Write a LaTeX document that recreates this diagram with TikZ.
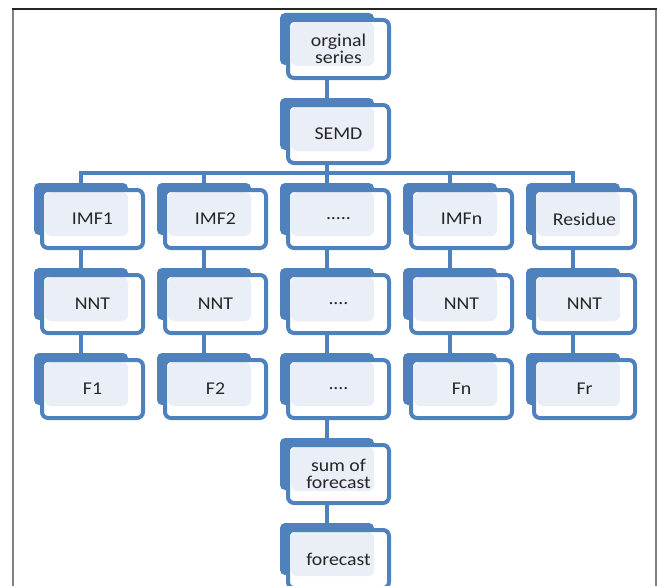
\documentclass[tikz,border=0pt]{standalone}
\usepackage{fontspec}
\setmainfont{Carlito}[FakeStretch=1.1]
\usetikzlibrary{backgrounds}
\definecolor{bl}{HTML}{4F81BD}
\definecolor{lf}{HTML}{EAEFF7}
\definecolor{txt}{HTML}{262626}
\tikzset{
  backshape/.style={fill=bl, rounded corners=5pt},
  frontbox/.style={draw=bl, line width=4pt, fill=white, rounded corners=6pt,
    minimum width=101pt, minimum height=58pt, inner sep=0pt, outer sep=0pt,
    align=center, font=\fontsize{18}{17}\selectfont, text=txt,
    path picture={\fill[lf] ([xshift=3pt,yshift=-2pt]path picture bounding box.north west)
      rectangle ([xshift=-15pt,yshift=12pt]path picture bounding box.south east);}},
  conn/.style={draw=bl, line width=4.5pt},
  framel/.style={line width=2pt, draw=black!50},
}
\newcommand\tbox[4]{%
  \fill[backshape] (#2-6,#3-5) rectangle (#2+88,#3+47);
  \node[frontbox] (#1) at (#2+52.5,#3+31) {#4};
}
\begin{document}
\begin{tikzpicture}[x=1pt,y=-1pt]
\useasboundingbox (0,0) rectangle (661,586);
\clip (0,0) rectangle (661,586);
% frame
\draw[framel] (12.5,9) -- (12.5,586);
\draw[framel] (656,9) -- (656,586);
\draw[line width=1.5pt, draw=black!85] (11.5,9) -- (657,9);
% boxes
\tbox{orig}{286}{18}{orginal\\series}
\tbox{semd}{286}{103}{SEMD}
\tbox{imf1}{40}{188}{IMF1}
\tbox{imf2}{163}{188}{IMF2}
\tbox{dotsA}{286}{188}{.....}
\tbox{imfn}{409}{188}{IMFn}
\tbox{res}{532}{188}{Residue}
\tbox{nnt1}{40}{273}{NNT}
\tbox{nnt2}{163}{273}{NNT}
\tbox{dotsB}{286}{273}{....}
\tbox{nntn}{409}{273}{NNT}
\tbox{nntr}{532}{273}{NNT}
\tbox{f1}{40}{358}{F1}
\tbox{f2}{163}{358}{F2}
\tbox{dotsC}{286}{358}{....}
\tbox{fn}{409}{358}{Fn}
\tbox{fr}{532}{358}{Fr}
\tbox{sum}{286}{443}{sum of\\forecast}
\tbox{fc}{286}{528}{forecast}
\coordinate (bus) at (0,173);
\begin{scope}[on background layer]
\draw[conn] ([xshift=-11.5pt]orig.south) -- ([xshift=-11.5pt]semd.north);
\draw[conn] ([xshift=-11.5pt]semd.south) -- ([xshift=-11.5pt]semd.south |- bus);
\draw[conn] ([xshift=-11.5pt]imf1.north) -- ([xshift=-11.5pt]imf1.north |- bus)
  -- ([xshift=-11.5pt]res.north |- bus) -- ([xshift=-11.5pt]res.north);
\foreach \c in {imf2,dotsA,imfn}
  \draw[conn] ([xshift=-11.5pt]\c.north) -- ([xshift=-11.5pt]\c.north |- bus);
\foreach \a/\b in {imf1/nnt1,imf2/nnt2,dotsA/dotsB,imfn/nntn,res/nntr,
                   nnt1/f1,nnt2/f2,dotsB/dotsC,nntn/fn,nntr/fr,dotsC/sum,sum/fc}
  \draw[conn] ([xshift=-11.5pt]\a.south) -- ([xshift=-11.5pt]\b.north);
\end{scope}
\end{tikzpicture}
\end{document}
